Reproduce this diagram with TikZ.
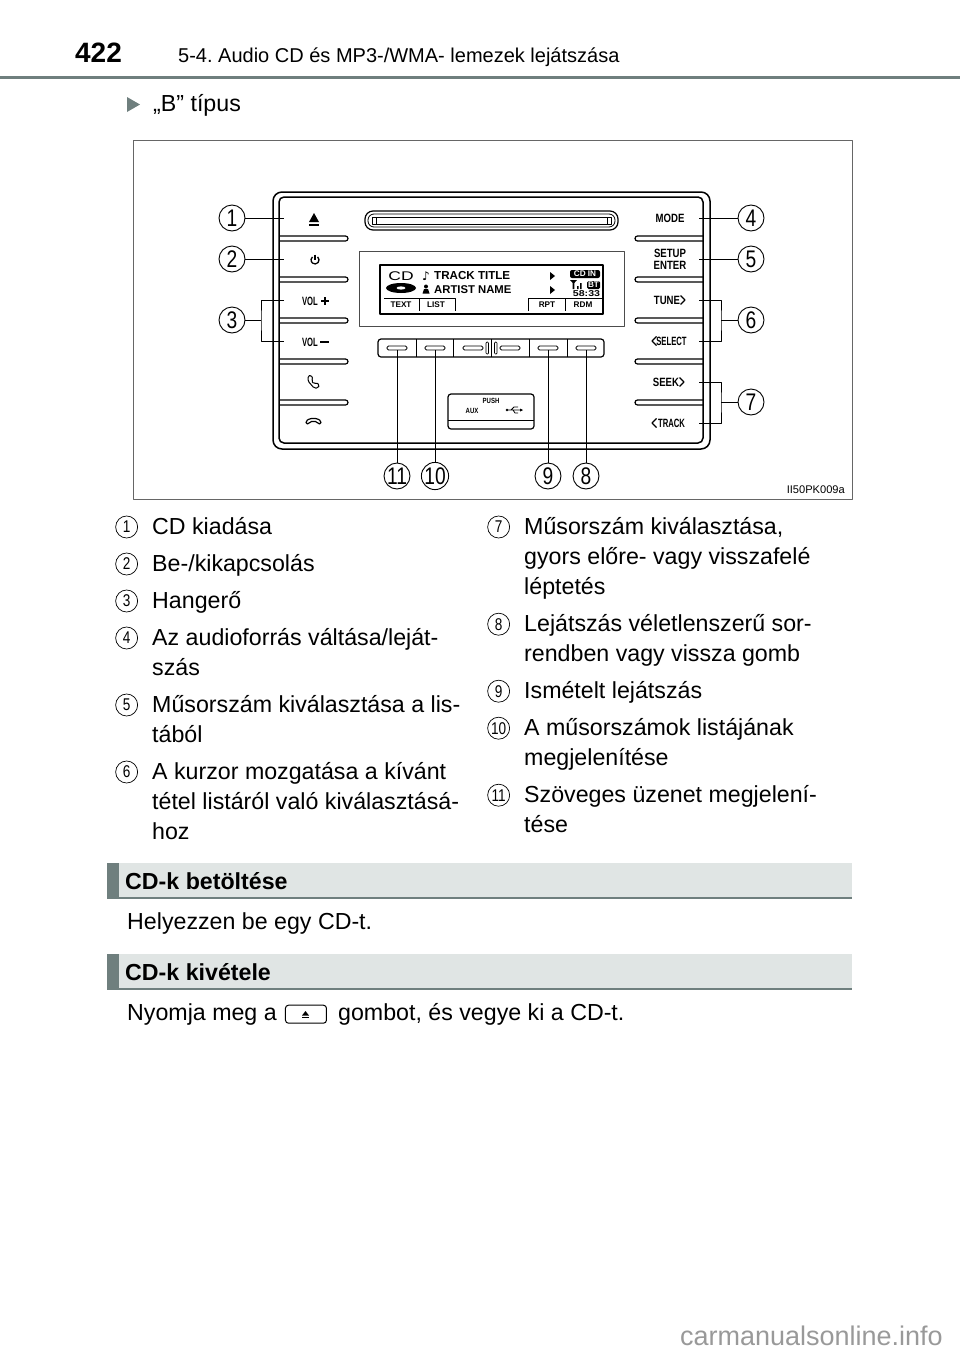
\documentclass[tikz,border=0pt]{standalone}
\usepackage{fontspec}
\setmainfont{Liberation Sans}
\newfontfamily\symfont{DejaVu Sans}
\usetikzlibrary{calc, positioning}
\definecolor{secgrey}{HTML}{6F7F7E}
\definecolor{secfill}{HTML}{E0E5E4}
\newcommand{\narrowtxt}[1]{\scalebox{.8}[1]{#1}}
\newcommand{\slimtxt}[1]{\scalebox{.64}[1]{#1}}
\frenchspacing

\begin{document}
\begin{tikzpicture}[
        x=1pt, y=-1pt,
        line join=round,
        bodytext/.style={
            font=\fontsize{23.2}{30}\selectfont,
            align=left,
            anchor=north west,
            inner sep=0pt
        },
        sechead/.style={
            font=\fontsize{23.2}{30}\selectfont\bfseries,
            anchor=west,
            inner sep=0pt
        },
        secbar/.style={
            fill=secfill,
            anchor=north west,
            minimum width=745pt,
            minimum height=36pt,
            inner sep=0pt
        },
        callout/.style={
            draw=black,
            circle,
            line width=.9pt,
            fill=white,
            minimum size=26pt,
            inner sep=0pt,
            font=\fontsize{24}{24}\selectfont
        },
        num/.style={
            draw=black,
            circle,
            line width=.7pt,
            minimum size=22pt,
            inner sep=0pt,
            font=\fontsize{17}{17}\selectfont
        },
        btnlabel/.style={
            font=\fontsize{12}{12}\selectfont\bfseries,
            align=center,
            inner sep=0pt
        },
        lcdlabel/.style={
            font=\fontsize{8.2}{8}\selectfont\bfseries,
            inner sep=0pt
        },
        leader/.style={draw=black, line width=.9pt},
        slot/.style={draw=black, line width=1.2pt, rounded corners=2.5pt},
        keydash/.style={draw=black, line width=.9pt, rounded corners=1.5pt}
    ]
    \useasboundingbox (0,0) rectangle (960,1352);

    % --- HEADER ---
    \node[font=\fontsize{28}{28}\selectfont\bfseries, inner sep=0pt] (pagenum) at (98.5,53) {422};
    \node[font=\fontsize{20}{24}\selectfont, anchor=west, inner sep=0pt] (chapter) at (178,57) {5-4. Audio CD és MP3-/WMA- lemezek lejátszása};
    \fill[secgrey] (0,76) rectangle (960,79);
    \fill[secgrey] (127,97) -- (140,104.5) -- (127,112) -- cycle;
    \node[font=\fontsize{23.2}{30}\selectfont, anchor=west, inner sep=0pt] (btype) at (153,105.5) {„B” típus};

    % --- PICTURE FRAME ---
    \draw[black!60, line width=1pt] (133,140) rectangle (852,499);
    \node[font=\fontsize{11.1}{12}\selectfont, anchor=east, inner sep=0pt] (partno) at (845,490) {II50PK009a};

    % --- PANEL ---
    % left slots
    \draw[slot] (279,236) -- (348,236) -- (348,241) -- (279,241);
    \draw[slot] (279,277) -- (348,277) -- (348,282) -- (279,282);
    \draw[slot] (279,318) -- (348,318) -- (348,323) -- (279,323);
    \draw[slot] (279,359) -- (348,359) -- (348,364) -- (279,364);
    \draw[slot] (279,400) -- (348,400) -- (348,405) -- (279,405);
    % right slots
    \draw[slot] (703,236) -- (635,236) -- (635,241) -- (703,241);
    \draw[slot] (703,277) -- (635,277) -- (635,282) -- (703,282);
    \draw[slot] (703,318) -- (635,318) -- (635,323) -- (703,323);
    \draw[slot] (703,359) -- (635,359) -- (635,364) -- (703,364);
    \draw[slot] (703,400) -- (635,400) -- (635,405) -- (703,405);
    \draw[line width=1.5pt, rounded corners=9pt] (273,192) rectangle (710,449);
    \draw[line width=1.5pt, rounded corners=5pt] (279,197) rectangle (703,443);

    % --- CD SLOT ---
    \draw[line width=1.2pt, rounded corners=8pt] (365,211) rectangle (618,230);
    \draw[line width=.8pt, rounded corners=6pt] (368,214) rectangle (615,227);
    \draw[line width=.8pt] (372,217) rectangle (611,224);
    \draw[line width=.8pt] (376,217) -- (376,224) (607,217) -- (607,224);

    % --- DISPLAY ---
    \draw[black!70, line width=.8pt] (359,251) rectangle (624,326);
    \draw[line width=1.3pt] (380,265) rectangle (603,314);
    \node[font=\fontsize{14}{14}\selectfont, inner sep=0pt] (cdlogo) at (401,276) {\scalebox{1.25}[.9]{CD}};
    \fill (401,288) ellipse (15pt and 5pt);
    \fill[white] (401,288) ellipse (4.5pt and 1.6pt);
    \node[font=\fontsize{12}{12}\selectfont\symfont, inner sep=0pt] (note) at (426,276) {♪};
    \node[lcdlabel, font=\fontsize{11.6}{12}\selectfont\bfseries, anchor=west] (track) at (434,276) {TRACK TITLE};
    \fill (426,286.5) circle (2pt);
    \fill (422.5,293.5) -- (424,289) -- (428,289) -- (429.5,293.5) -- cycle;
    \node[lcdlabel, font=\fontsize{11.3}{12}\selectfont\bfseries, anchor=west] (artist) at (434,290) {ARTIST NAME};
    \fill (550,272) -- (555,276) -- (550,280) -- cycle;
    \fill (550,286) -- (555,290) -- (550,294) -- cycle;
    \node[fill=black, text=white, rounded corners=2pt, inner sep=0pt, minimum width=30pt, minimum height=8pt, font=\fontsize{8.2}{8}\selectfont\bfseries] (cdin) at (585,274) {CD IN};
    \fill (570,280) -- (577,280) -- (574.3,283) -- (574.3,289) -- (572.7,289) -- (572.7,283) -- cycle;
    \fill (577,286) rectangle (578.5,289) (580,283) rectangle (581.5,289);
    \node[fill=black, text=white, rounded corners=1.5pt, inner sep=0pt, minimum width=13pt, minimum height=8pt, font=\fontsize{8.2}{8}\selectfont\bfseries] (btbox) at (593.5,285) {BT};
    \node[lcdlabel, font=\fontsize{8.5}{8}\selectfont\bfseries] (clock) at (586.5,294) {\scalebox{1.25}[1]{58:33}};
    \draw[line width=1pt] (384,298) -- (455,298) -- (455,311) (419,298) -- (419,311);
    \draw[line width=1pt] (528,311) -- (528,298) -- (603,298) (565,298) -- (565,311);
    \node[lcdlabel] (text) at (401,305) {TEXT};
    \node[lcdlabel] (list) at (436,305) {LIST};
    \node[lcdlabel] (rpt) at (547,305) {RPT};
    \node[lcdlabel] (rdm) at (583,305) {RDM};

    % --- SOFT KEYS ---
    \draw[line width=1.2pt, rounded corners=3pt] (378,339) rectangle (604,357);
    \draw[line width=1pt] (416,339) -- (416,357) (453,339) -- (453,357) (491.5,339) -- (491.5,357) (529,339) -- (529,357) (567,339) -- (567,357);
    \draw[keydash] (387,346) rectangle (407,350);
    \draw[keydash] (425,346) rectangle (445,350);
    \draw[keydash] (463,346) rectangle (483,350);
    \draw[keydash] (500,346) rectangle (520,350);
    \draw[keydash] (538,346) rectangle (558,350);
    \draw[keydash] (576,346) rectangle (596,350);
    \draw[line width=.7pt, rounded corners=1pt] (486,342) rectangle (488.5,354);
    \draw[line width=.7pt, rounded corners=1pt] (494.5,342) rectangle (497,354);

    % --- USB COVER ---
    \draw[line width=1.2pt, rounded corners=3pt] (448,394) rectangle (534,429);
    \draw[line width=.8pt] (448,420) -- (534,420);
    \node[lcdlabel, font=\fontsize{7.5}{8}\selectfont\bfseries] (push) at (491,401) {\narrowtxt{PUSH}};
    \node[lcdlabel, font=\fontsize{7.5}{8}\selectfont\bfseries] (aux) at (472,411) {\narrowtxt{AUX}};
    \draw[line width=.8pt] (507,410) -- (522,410) (511,410) -- (514,407) -- (518,407) (513,410) -- (515,413) -- (518,413);
    \fill (507,410) circle (1.3pt);
    \fill (520,408.5) -- (523,410) -- (520,411.5) -- cycle;

    % --- LEFT BUTTONS ---
    \fill (309,222) -- (314,213) -- (319,222) -- cycle;
    \fill (309,223.5) rectangle (319,225.5);
    \draw[line width=1.3pt] (317.6,256.9) arc[start angle=50, end angle=-230, radius=4pt];
    \draw[line width=1.3pt] (315,254.5) -- (315,259.5);
    \node[btnlabel] (volp) at (310,301) {\slimtxt{VOL}};
    \draw[line width=1.4pt] (321,301) -- (329,301) (325,297) -- (325,305);
    \node[btnlabel] (volm) at (310,342) {\slimtxt{VOL}};
    \draw[line width=1.4pt] (320,342) -- (329,342);
    \draw[line width=1pt, rounded corners=1.5pt] (308,376) -- (311,375) -- (313,379) -- (311.5,381) -- (314,384) -- (316,382.5) -- (319.5,385) -- (318,388) -- (314,388) -- (308,381) -- cycle;
    \draw[line width=1.2pt, fill=white, rounded corners=1.5pt] (306,424) -- (306,421) -- (310,418.5) -- (317,418.5) -- (321,421) -- (321,424) -- (318,424) -- (317,421.5) -- (310,421.5) -- (309,424) -- cycle;

    % --- RIGHT BUTTONS ---
    \node[btnlabel] (mode) at (670,218) {\narrowtxt{MODE}};
    \node[btnlabel] (setup) at (670,259) {\narrowtxt{SETUP}\\\narrowtxt{ENTER}};
    \node[btnlabel] (tune) at (667,300) {\narrowtxt{TUNE}};
    \draw[line width=1.3pt] (680.5,295.5) -- (685,300) -- (680.5,304.5);
    \node[btnlabel] (select) at (671.5,341) {\slimtxt{SELECT}};
    \draw[line width=1.3pt] (656.5,336.5) -- (652,341) -- (656.5,345.5);
    \node[btnlabel] (seek) at (666,382) {\narrowtxt{SEEK}};
    \draw[line width=1.3pt] (679.5,377.5) -- (684,382) -- (679.5,386.5);
    \node[btnlabel] (trackbtn) at (671.5,423) {\slimtxt{TRACK}};
    \draw[line width=1.3pt] (656.5,418.5) -- (652,423) -- (656.5,427.5);

    % --- CALLOUTS ---
    \node[callout] (c1) at (232,218) {\narrowtxt{1}};
    \node[callout] (c2) at (232,259) {\narrowtxt{2}};
    \node[callout] (c3) at (232,320) {\narrowtxt{3}};
    \node[callout] (c4) at (751,218) {\narrowtxt{4}};
    \node[callout] (c5) at (751,259) {\narrowtxt{5}};
    \node[callout] (c6) at (751,320) {\narrowtxt{6}};
    \node[callout] (c7) at (751,402) {\narrowtxt{7}};
    \node[callout] (c8) at (586,476) {\narrowtxt{8}};
    \node[callout] (c9) at (548,476) {\narrowtxt{9}};
    \node[callout] (c10) at (435,476) {\narrowtxt{10}};
    \node[callout] (c11) at (397,476) {\narrowtxt{11}};

    \coordinate (a1) at (284,218);
    \coordinate (a2) at (284,259);
    \coordinate (a3t) at (284,300);
    \coordinate (a3b) at (284,341);
    \coordinate (b3) at (261,320);
    \coordinate (a4) at (699,218);
    \coordinate (a5) at (699,259);
    \coordinate (a6t) at (699,300);
    \coordinate (a6b) at (699,341);
    \coordinate (b6) at (721,320);
    \coordinate (a7t) at (699,382);
    \coordinate (a7b) at (699,423);
    \coordinate (b7) at (721,402);
    \coordinate (a8) at (586,350);
    \coordinate (a9) at (548,350);
    \coordinate (a10) at (435,350);
    \coordinate (a11) at (397,350);

    % --- LEADERS ---
    \draw[leader] (c1) -- (a1);
    \draw[leader] (c2) -- (a2);
    \draw[leader] (c3) -- (b3);
    \draw[leader] (a3t) -| (b3) |- (a3b);
    \draw[leader] (c4) -- (a4);
    \draw[leader] (c5) -- (a5);
    \draw[leader] (c6) -- (b6);
    \draw[leader] (a6t) -| (b6) |- (a6b);
    \draw[leader] (c7) -- (b7);
    \draw[leader] (a7t) -| (b7) |- (a7b);
    \draw[leader] (c8) -- (a8);
    \draw[leader] (c9) -- (a9);
    \draw[leader] (c10) -- (a10);
    \draw[leader] (c11) -- (a11);

    % --- LEFT LIST ---
    \node[bodytext] (t1) at (152,513) {\strut CD kiadása};
    \node[bodytext, below=6.6pt of t1.south west, anchor=north west] (t2) {\strut Be-/kikapcsolás};
    \node[bodytext, below=6.6pt of t2.south west, anchor=north west] (t3) {\strut Hangerő};
    \node[bodytext, below=6.6pt of t3.south west, anchor=north west] (t4) {\strut Az audioforrás váltása/leját-\\\strut szás};
    \node[bodytext, below=6.6pt of t4.south west, anchor=north west] (t5) {\strut Műsorszám kiválasztása a lis-\\\strut tából};
    \node[bodytext, below=6.6pt of t5.south west, anchor=north west] (t6) {\strut A kurzor mozgatása a kívánt\\\strut tétel listáról való kiválasztásá-\\\strut hoz};
    \node[num, left=14pt of t1.north west, yshift=-14pt] (n1) {\narrowtxt{1}};
    \node[num, left=14pt of t2.north west, yshift=-14pt] (n2) {\narrowtxt{2}};
    \node[num, left=14pt of t3.north west, yshift=-14pt] (n3) {\narrowtxt{3}};
    \node[num, left=14pt of t4.north west, yshift=-14pt] (n4) {\narrowtxt{4}};
    \node[num, left=14pt of t5.north west, yshift=-14pt] (n5) {\narrowtxt{5}};
    \node[num, left=14pt of t6.north west, yshift=-14pt] (n6) {\narrowtxt{6}};

    % --- RIGHT LIST ---
    \node[bodytext] (t7) at (524,513) {\strut Műsorszám kiválasztása,\\\strut gyors előre- vagy visszafelé\\\strut léptetés};
    \node[bodytext, below=6.8pt of t7.south west, anchor=north west] (t8) {\strut Lejátszás véletlenszerű sor-\\\strut rendben vagy vissza gomb};
    \node[bodytext, below=6.6pt of t8.south west, anchor=north west] (t9) {\strut Ismételt lejátszás};
    \node[bodytext, below=6.6pt of t9.south west, anchor=north west] (t10) {\strut A műsorszámok listájának\\\strut megjelenítése};
    \node[bodytext, below=6.6pt of t10.south west, anchor=north west] (t11) {\strut Szöveges üzenet megjelení-\\\strut tése};
    \node[num, left=14pt of t7.north west, yshift=-14pt] (n7) {\narrowtxt{7}};
    \node[num, left=14pt of t8.north west, yshift=-14pt] (n8) {\narrowtxt{8}};
    \node[num, left=14pt of t9.north west, yshift=-14pt] (n9) {\narrowtxt{9}};
    \node[num, left=14pt of t10.north west, yshift=-14pt] (n10) {\narrowtxt{10}};
    \node[num, left=14pt of t11.north west, yshift=-14pt] (n11) {\narrowtxt{11}};

    % --- LOADING ---
    \node[secbar] (sec1) at (107,863) {};
    \fill[secgrey] (sec1.north west) rectangle ([xshift=12pt]sec1.south west);
    \fill[secgrey] ([yshift=2.5pt]sec1.south west) rectangle (sec1.south east);
    \node[sechead] (head1) at (125,881) {CD-k betöltése};
    \node[bodytext] (ins) at (127,908) {\strut Helyezzen be egy CD-t.};

    % --- EJECTING ---
    \node[secbar] (sec2) at (107,954) {};
    \fill[secgrey] (sec2.north west) rectangle ([xshift=12pt]sec2.south west);
    \fill[secgrey] ([yshift=2.5pt]sec2.south west) rectangle (sec2.south east);
    \node[sechead] (head2) at (125,972) {CD-k kivétele};
    \node[bodytext] (press) at (127,999) {\strut Nyomja meg a};
    \node[draw=black, line width=1pt, rounded corners=3pt, minimum width=41pt, minimum height=18pt, inner sep=0pt, right=8pt of press] (key) {};
    \fill (302,1015.5) -- (305.5,1011) -- (309,1015.5) -- cycle;
    \fill (302,1016.5) rectangle (309,1017.5);
    \node[bodytext, anchor=west, right=11pt of key] (rest) {\strut gombot, és vegye ki a CD-t.};

    % --- FOOTER ---
    \node[font=\fontsize{27}{27}\selectfont, text=black!40, anchor=east, inner sep=0pt] (site) at (943,1336) {carmanualsonline.info};

\end{tikzpicture}
\end{document}
